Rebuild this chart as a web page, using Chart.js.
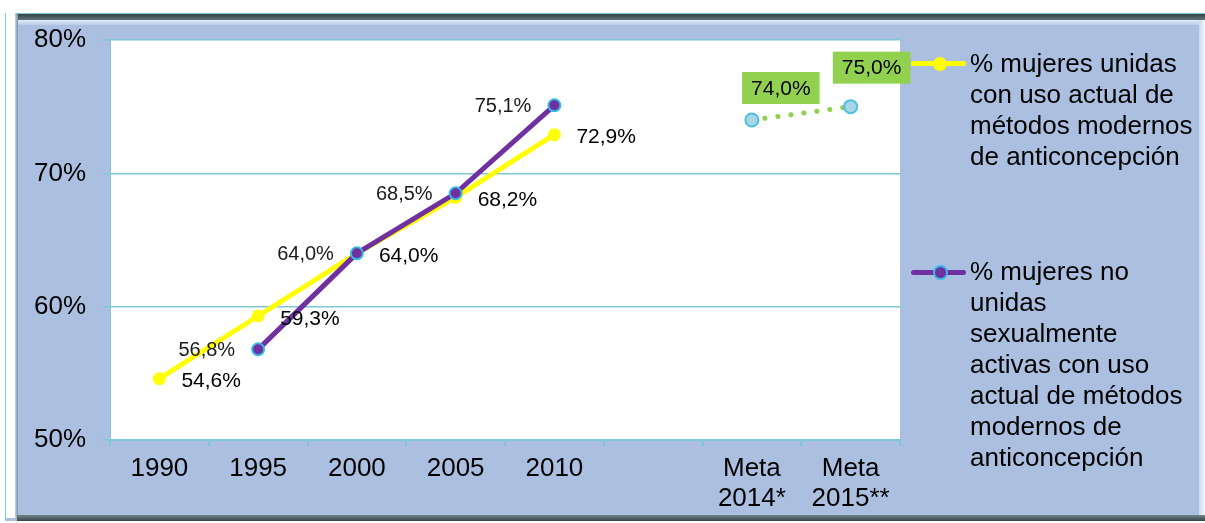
<!DOCTYPE html>
<html>
<head>
<meta charset="utf-8">
<script src="https://cdn.jsdelivr.net/npm/chart.js@4"></script>
<style>
  html, body { margin: 0; padding: 0; background: #ffffff; width: 1205px; height: 523px; overflow: hidden; }
  .abs { position: absolute; }
  #bg { left: 5px; top: 13px; width: 1200px; height: 508px; background: #abc0e0; }
  #topband { left: 5px; top: 13px; width: 1200px; height: 7px;
    background: linear-gradient(#7ccbd9 0px, #7ccbd9 1px, #33464c 1px, #5f7378 7px); }
  #tophl { left: 15px; top: 20px; width: 1185px; height: 5px; background: linear-gradient(#e3ecf8, #b9cbe6); }
  #leftband { left: 5px; top: 13px; width: 13px; height: 505px;
    background: linear-gradient(90deg, #7ccbd9 0px, #7ccbd9 1px, #ffffff 1px, #ffffff 10px, #c3cfe0 10px, #7f90a8 13px); }
  #rightband { left: 1199px; top: 20px; width: 6px; height: 496px; background: linear-gradient(90deg, #c9d8ee, #f2f7fd); }
  #botband { left: 17px; top: 515px; width: 1188px; height: 6px; background: linear-gradient(#71858a, #33464c); }
  canvas#c { position: absolute; left: 0; top: 0; }
  .legtext { position: absolute; left: 970px; font-family: "Liberation Sans", Arial, sans-serif; font-size: 26px; line-height: 31px; color: #000; white-space: nowrap; }
  .legline { position: absolute; left: 911px; width: 55px; height: 5px; border-radius: 3px; }
  .legdot { position: absolute; border-radius: 50%; }
</style>
</head>
<body>
<div id="bg" class="abs"></div>
<div id="topband" class="abs"></div>
<div id="tophl" class="abs"></div>
<div id="leftband" class="abs"></div>
<div id="rightband" class="abs"></div>
<div id="botband" class="abs"></div>
<canvas id="c" width="1205" height="523"></canvas>

<div class="legline" style="top:61px; background:#ffff00;"></div>
<div class="legdot" style="left:933px; top:57px; width:14px; height:14px; background:#ffff00;"></div>
<div class="legtext" id="leg1" style="top:48px;">% mujeres unidas<br>con uso actual de<br>métodos modernos<br>de anticoncepción</div>

<div class="legline" style="top:270px; background:#7030a0;"></div>
<div class="legdot" style="left:933px; top:265px; width:11px; height:11px; background:#7030a0; border:2px solid #37b8e6;"></div>
<div class="legtext" id="leg2" style="top:256px;">% mujeres no<br>unidas<br>sexualmente<br>activas con uso<br>actual de métodos<br>modernos de<br>anticoncepción</div>

<script>
// ---- Data ----
const categories = [['1990'], ['1995'], ['2000'], ['2005'], ['2010'], '', ['Meta', '2014*'], ['Meta', '2015**']];
const unidas = [54.6, 59.3, 64.0, 68.2, 72.9, null, null, null];
const noUnidas = [null, 56.8, 64.0, 68.5, 75.1, null, null, null];
const metas = [null, null, null, null, null, null, 74.0, 75.0];
const yTickValues = [50, 60, 70, 80];
const legendLabels = ['% mujeres unidas con uso actual de métodos modernos de anticoncepción',
                      '% mujeres no unidas sexualmente activas con uso actual de métodos modernos de anticoncepción'];

const FONT = '"Liberation Sans", Arial, sans-serif';
const GRID = '#7fc8da';

function fmt(v) { return v.toFixed(1).replace('.', ',') + '%'; }

const plotBg = {
  id: 'plotBg',
  beforeDraw(chart) {
    const { ctx, chartArea: a } = chart;
    ctx.save();
    ctx.fillStyle = '#ffffff';
    ctx.fillRect(a.left, a.top, a.right - a.left, a.bottom - a.top);
    ctx.restore();
  }
};

const valueLabels = {
  id: 'valueLabels',
  afterDatasetsDraw(chart) {
    const ctx = chart.ctx;
    chart.data.datasets.forEach((ds, di) => {
      const meta = chart.getDatasetMeta(di);
      const st = ds.labelStyle;
      meta.data.forEach((pt, i) => {
        const v = ds.data[i];
        if (v === null || v === undefined) return;
        const txt = fmt(v);
        ctx.save();
        ctx.font = st.font;
        ctx.textBaseline = 'middle';
        const off = (st.offsets && st.offsets[i]) || [st.dx, st.dy];
        const x = pt.x + off[0], y = pt.y + off[1];
        if (st.box) {
          const w = ctx.measureText(txt).width + 18;
          const h = 32;
          ctx.fillStyle = st.box;
          ctx.fillRect(x - w / 2, y - h / 2, w, h);
          ctx.textAlign = 'center';
          ctx.fillStyle = st.color;
          ctx.fillText(txt, x, y + 1);
        } else {
          ctx.textAlign = st.align;
          ctx.fillStyle = st.color;
          ctx.fillText(txt, x, y);
        }
        ctx.restore();
      });
    });
  }
};

new Chart(document.getElementById('c'), {
  type: 'line',
  data: {
    labels: categories,
    datasets: [
      {
        label: legendLabels[0],
        data: unidas,
        order: 2,
        borderColor: '#ffff00',
        backgroundColor: '#ffff00',
        borderWidth: 5,
        pointRadius: 6.5,
        pointBorderWidth: 0,
        pointBackgroundColor: '#ffff00',
        tension: 0,
        labelStyle: { font: '21px ' + FONT, color: '#000', align: 'left', dx: 22, dy: 3 }
      },
      {
        label: legendLabels[1],
        data: noUnidas,
        order: 1,
        borderColor: '#7030a0',
        backgroundColor: '#7030a0',
        borderWidth: 5,
        pointRadius: 6,
        pointBorderWidth: 2,
        pointBorderColor: '#37b8e6',
        pointBackgroundColor: '#7030a0',
        tension: 0,
        labelStyle: { font: '20px ' + FONT, color: '#1a1a1a', align: 'right', dx: -23, dy: 1 }
      },
      {
        label: 'Meta',
        data: metas,
        order: 3,
        borderColor: '#92d050',
        borderWidth: 5,
        borderDash: [0.1, 13],
        borderCapStyle: 'round',
        pointRadius: 6.5,
        pointBorderWidth: 2,
        pointBorderColor: '#4ec1e8',
        pointBackgroundColor: '#a9d6e4',
        tension: 0,
        labelStyle: { font: '21px ' + FONT, color: '#000', box: '#92d050', dx: 26, dy: -35,
                      offsets: { 6: [29, -32], 7: [21, -39] } }
      }
    ]
  },
  options: {
    responsive: false,
    animation: false,
    devicePixelRatio: 1,
    layout: { padding: { top: 40, right: 305, bottom: 0, left: 0 } },
    plugins: { legend: { display: false }, tooltip: { enabled: false } },
    scales: {
      x: {
        type: 'category',
        offset: true,
        afterFit(scale) { scale.height = 83; },
        grid: { display: true, drawOnChartArea: false, drawTicks: true, tickLength: 6, offset: true, color: GRID, lineWidth: 2 },
        border: { display: true, color: GRID, width: 2 },
        ticks: { color: '#000', font: { family: FONT, size: 26, lineHeight: 1.16 }, padding: 8, maxRotation: 0, autoSkip: false }
      },
      y: {
        min: 50, max: 80,
        afterFit(scale) { scale.width = 110; },
        afterBuildTicks(scale) { scale.ticks = yTickValues.map(v => ({ value: v })); },
        grid: { color: GRID, lineWidth: 1.5, tickLength: 8, drawTicks: true },
        border: { display: true, color: GRID, width: 1 },
        ticks: { color: '#000', font: { family: FONT, size: 26 }, padding: 16, callback: v => v + '%' }
      }
    }
  },
  plugins: [plotBg, valueLabels]
});
</script>
</body>
</html>
